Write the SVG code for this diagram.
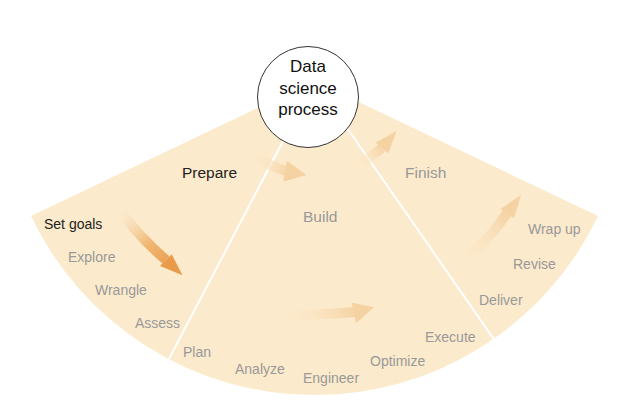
<svg xmlns="http://www.w3.org/2000/svg" width="618" height="405" viewBox="0 0 618 405">
<style>
text{font-family:"Liberation Sans",Arial,Helvetica,sans-serif}
.step{font-size:14px;fill:#999}
.phase{font-size:15.5px;fill:#999}
.dark{fill:#222}
.div{stroke:#fff;stroke-width:2;fill:none}
.shaft{fill:none;stroke-width:10}
</style>
<defs>
<linearGradient id="g1" gradientUnits="userSpaceOnUse" x1="118" y1="208" x2="176" y2="268">
<stop offset="0" stop-color="#FDF0DC" stop-opacity="0.3"/>
<stop offset="0.55" stop-color="#F0B874"/>
<stop offset="1" stop-color="#E99B4B"/>
</linearGradient>
<linearGradient id="g2" gradientUnits="userSpaceOnUse" x1="250" y1="152" x2="290" y2="172">
<stop offset="0" stop-color="#FCEACC" stop-opacity="0"/>
<stop offset="1" stop-color="#F5D2A2"/>
</linearGradient>
<linearGradient id="g3" gradientUnits="userSpaceOnUse" x1="355" y1="167" x2="384" y2="147">
<stop offset="0" stop-color="#FCEACC" stop-opacity="0"/>
<stop offset="1" stop-color="#F5D2A2"/>
</linearGradient>
<linearGradient id="g4" gradientUnits="userSpaceOnUse" x1="280" y1="314" x2="356" y2="312">
<stop offset="0" stop-color="#FCEACC" stop-opacity="0"/>
<stop offset="1" stop-color="#F5D2A2"/>
</linearGradient>
<linearGradient id="g5" gradientUnits="userSpaceOnUse" x1="458" y1="266" x2="508" y2="212">
<stop offset="0" stop-color="#FCEACC" stop-opacity="0"/>
<stop offset="1" stop-color="#F5D2A2"/>
</linearGradient>
</defs>

<g id="fan">
<path d="M314.5 81 L31 216 A314 314 0 0 0 598 216 Z" fill="#FCEACC"/>
<line class="div" x1="314.5" y1="81" x2="168.8" y2="359.2"/>
<line class="div" x1="314.5" y1="81" x2="493.6" y2="338.9"/>
</g>

<g id="connectors">
<path class="shaft" d="M118 208 Q138 236 166 260" stroke="url(#g1)" stroke-width="9"/>
<polygon points="160,266 171.7,254.3 182.5,275.3" fill="#E99B4B"/>
<path class="shaft" d="M250 152 Q268 166 286 171" stroke="url(#g2)"/>
<polygon points="286.7,160.7 283.3,181.7 306.7,175" fill="#F5D2A2"/>
<path class="shaft" d="M355 167 Q370 158 382 148" stroke="url(#g3)"/>
<polygon points="375.7,142.7 388.3,153.3 396.7,130.7" fill="#F5D2A2"/>
<path class="shaft" d="M280 315 Q320 315 355 312" stroke="url(#g4)"/>
<polygon points="351.7,302.7 356,323.3 374,307.3" fill="#F5D2A2"/>
<path class="shaft" d="M458 266 Q488 242 507 213" stroke="url(#g5)"/>
<polygon points="500.7,209 514,218.3 521,195" fill="#F5D2A2"/>
</g>

<g id="prepare">
<text x="182" y="178" class="phase dark">Prepare</text>
<text x="44" y="229" class="step dark">Set goals</text>
<text x="68" y="262" class="step">Explore</text>
<text x="95" y="294.5" class="step">Wrangle</text>
<text x="135" y="327.5" class="step">Assess</text>
</g>

<g id="build">
<text x="303" y="222" class="phase">Build</text>
<text x="183" y="357" class="step">Plan</text>
<text x="235" y="373.5" class="step">Analyze</text>
<text x="303" y="383" class="step">Engineer</text>
<text x="370" y="365.5" class="step">Optimize</text>
<text x="425" y="341.5" class="step">Execute</text>
</g>

<g id="finish">
<text x="405" y="178" class="phase">Finish</text>
<text x="479" y="304.5" class="step">Deliver</text>
<text x="513" y="268.5" class="step">Revise</text>
<text x="528" y="234" class="step">Wrap up</text>
</g>

<g id="data-science-process">
<circle cx="308" cy="97" r="50.5" fill="#fff" stroke="#333" stroke-width="1"/>
<text x="308" y="72" text-anchor="middle" font-size="17" fill="#111">Data</text>
<text x="308" y="93.5" text-anchor="middle" font-size="17" fill="#111">science</text>
<text x="308" y="114.5" text-anchor="middle" font-size="17" fill="#111">process</text>
</g>
</svg>
